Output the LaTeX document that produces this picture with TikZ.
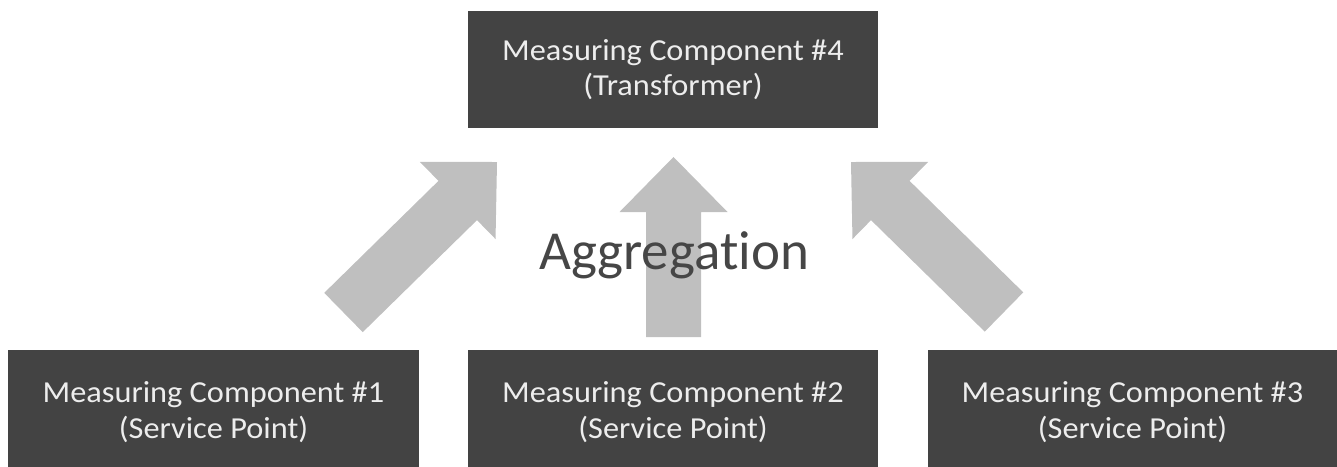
\documentclass[tikz,border=0pt]{standalone}
\usepackage{fontspec}
\setmainfont{Carlito}[FakeStretch=1.06, Ligatures={NoCommon}]
\newfontfamily\aggfont{Carlito}[Ligatures={NoCommon}]
\usetikzlibrary{calc}
\definecolor{boxfill}{HTML}{434343}
\definecolor{boxtext}{HTML}{EDEDED}
\definecolor{arrowfill}{HTML}{BFBFBF}
\definecolor{aggtext}{HTML}{464646}
\tikzset{
  compbox/.style={fill=boxfill, draw=none, text=boxtext, align=center,
    minimum width=410pt, minimum height=116pt, inner sep=0pt,
    font=\fontsize{30.5}{35.5}\selectfont},
  blockarrow/.style={fill=arrowfill, draw=none}
}
\newcommand\blockarr[2]{%
  \coordinate (h) at ($(#2)!55pt!(#1)$);
  \fill[blockarrow] ($(#1)!27.5pt!90:(#2)$) -- ($(h)!27.5pt!90:(#2)$)
    -- ($(h)!54pt!90:(#2)$) -- (#2) -- ($(h)!54pt!-90:(#2)$)
    -- ($(h)!27.5pt!-90:(#2)$) -- ($(#1)!27.5pt!-90:(#2)$) -- cycle;
}
\begin{document}
\begin{tikzpicture}[x=1pt,y=-1pt]
\useasboundingbox (0,0) rectangle (1337,466);
% arrows
\coordinate (t1) at (343.5,312.5);
\coordinate (p1) at (497,162);
\coordinate (t2) at (673.5,337);
\coordinate (p2) at (673.5,157);
\coordinate (t3) at (1004,312);
\coordinate (p3) at (851,162);
\blockarr{t1}{p1}
\blockarr{t2}{p2}
\blockarr{t3}{p3}
% boxes
\node[compbox, minimum height=117pt] (top) at (673,69.5) {Measuring Component \#4\\(Transformer)};
\node[compbox, minimum width=411pt, minimum height=124pt] (b1) at (213.5,412) {Measuring Component \#1\\(Service Point)};
\node[compbox, minimum height=124pt] (b2) at (673,412) {Measuring Component \#2\\(Service Point)};
\node[compbox, minimum width=409pt, minimum height=124pt] (b3) at (1132.5,412) {Measuring Component \#3\\(Service Point)};
% label
\node[anchor=base, text=aggtext, font=\aggfont\fontsize{55}{60}\selectfont, inner sep=0pt] (agg) at (674,269) {Aggregation};
\end{tikzpicture}
\end{document}
